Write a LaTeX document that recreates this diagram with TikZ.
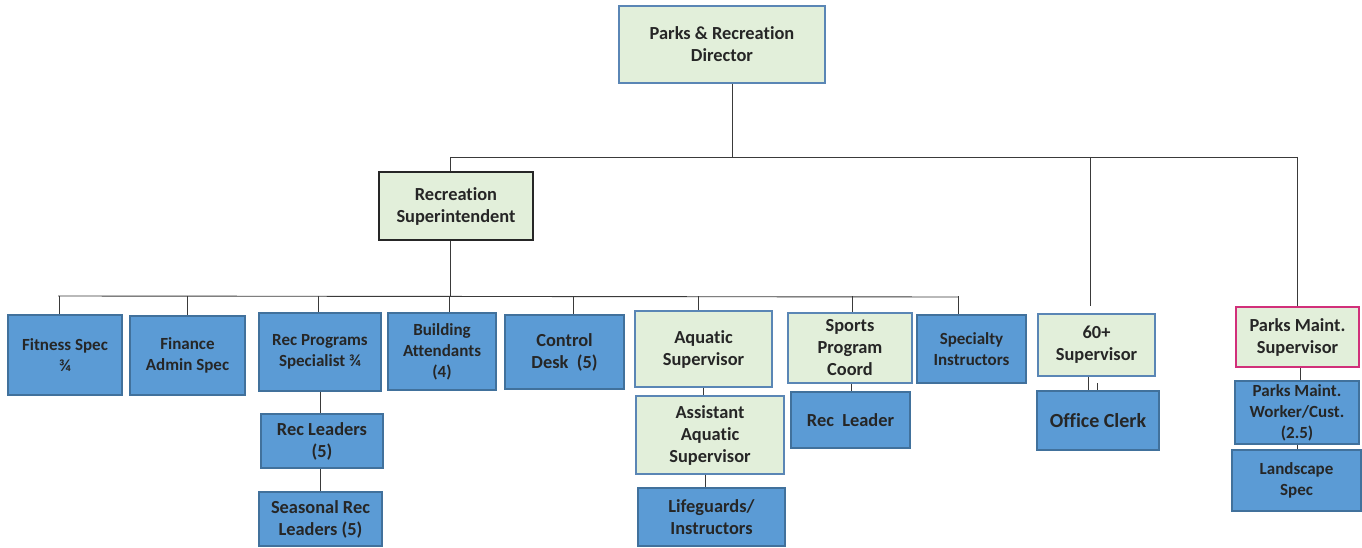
\documentclass[tikz,border=0pt]{standalone}
\usepackage{fontspec}
\setmainfont{Carlito}[Ligatures=NoCommon]
\definecolor{bfill}{HTML}{5B9BD5}
\definecolor{bdraw}{HTML}{41719C}
\definecolor{gfill}{HTML}{E2EFDA}
\definecolor{gdraw}{HTML}{5A86B5}
\definecolor{pdraw}{HTML}{D1307A}
\definecolor{txt}{HTML}{262626}
\definecolor{lin}{HTML}{3A3A3A}
\tikzset{
  box/.style={rectangle, inner sep=0pt, align=center, text=txt,
    font=\fontsize{18.4}{22}\selectfont\bfseries},
  smallt/.style={font=\fontsize{17}{21}\selectfont\bfseries},
  bluebox/.style={box, fill=bfill, draw=bdraw, line width=1.3pt},
  greenbox/.style={box, fill=gfill, draw=gdraw, line width=1.3pt},
  supbox/.style={box, fill=gfill, draw=txt, line width=1.6pt},
  pinkbox/.style={box, fill=gfill, draw=pdraw, line width=1.6pt},
  conn/.style={draw=lin, line width=0.9pt},
  sz/.style 2 args={minimum width=#1pt, minimum height=#2pt}
}
\begin{document}
\begin{tikzpicture}[x=1pt,y=-1pt]
\useasboundingbox (0,0) rectangle (1362,548);
% nodes
\node[greenbox, sz={206}{77}] (dir) at (722,44.5) {Parks \& Recreation\\Director};
\node[supbox, sz={154}{68}] (sup) at (456,206) {Recreation\\Superintendent};
\node[bluebox, smallt, sz={114}{80}] (fit) at (65,355) {Fitness Spec\\¾};
\node[bluebox, smallt, sz={115}{79}] (fin) at (187.5,355.5) {Finance\\Admin Spec};
\node[bluebox, smallt, sz={122}{78}] (rps) at (320,352) {Rec Programs\\Specialist ¾};
\node[bluebox, sz={122}{54}] (rl) at (322,441) {Rec Leaders\\(5)};
\node[bluebox, sz={123}{54}] (srl) at (320.5,519) {Seasonal Rec\\Leaders (5)};
\node[bluebox, smallt, sz={108}{77}] (ba) at (442,351.5) {Building\\Attendants\\(4)};
\node[bluebox, sz={119}{74}] (cd) at (564.5,352) {Control\\Desk~~(5)};
\node[greenbox, sz={137}{76}] (aq) at (703.5,349) {Aquatic\\Supervisor};
\node[greenbox, sz={148}{78}] (aaq) at (710,435) {Assistant\\Aquatic\\Supervisor};
\node[bluebox, sz={147}{58}] (lg) at (711.5,517) {Lifeguards/\\Instructors};
\node[greenbox, sz={124}{70}] (spc) at (850,348) {Sports\\Program\\Coord};
\node[bluebox, sz={119}{56}] (rlr) at (850.5,420) {Rec~~Leader};
\node[bluebox, smallt, sz={109}{68}] (si) at (971.5,349) {Specialty\\Instructors};
\node[greenbox, sz={117}{62}] (s60) at (1096.5,345) {60+\\Supervisor};
\node[bluebox, sz={122}{59}, font=\fontsize{20}{24}\selectfont\bfseries] (oc) at (1098,420.5) {Office Clerk};
\node[pinkbox, sz={123}{60}] (pms) at (1297.5,337) {Parks Maint.\\Supervisor};
\node[bluebox, smallt, sz={124}{63}] (pmw) at (1297,412.5) {Parks Maint.\\Worker/Cust.\\(2.5)};
\node[bluebox, smallt, sz={129}{61}] (ls) at (1296.5,480.5) {Landscape\\Spec};
% top level connectors
\coordinate (dj) at (732,157);
\coordinate (tL) at (450,157);
\coordinate (tR) at (1297,157);
\coordinate (t60) at (1090,157);
\coordinate (e60) at (1090,306);
\draw[conn] (dir.south -| dj) -- (dj);
\draw[conn] (tL) -- (tR);
\draw[conn] (tL) -- (sup.north -| tL);
\draw[conn] (t60) -- (e60);
\draw[conn] (tR) -- (pms.north -| tR);
% second level bus
\coordinate (bL) at (58,296);
\coordinate (bR) at (958,297);
\coordinate (bS) at (450,296);
\draw[conn] (sup.south -| bS) -- (bS);
\draw[conn] (bL) -- (bR);
\foreach \n/\x in {fit/59, fin/187, rps/318, ba/449, cd/573, aq/698, spc/852, si/958}{
  \draw[conn] (\x,296) -- (\n.north -| \x,0);
}
% sub connectors
\draw[conn] (rps.south -| 320,0) -- (rl.north -| 320,0);
\draw[conn] (rl.south -| 320,0) -- (srl.north -| 320,0);
\draw[conn] (aq.south -| 703,0) -- (aaq.north -| 703,0);
\draw[conn] (aaq.south -| 705,0) -- (lg.north -| 705,0);
\draw[conn] (spc.south -| 851,0) -- (rlr.north -| 851,0);
\draw[conn] (s60.south -| 1088,0) -- (oc.north -| 1088,0);
\coordinate (tick) at (1097,383);
\draw[conn] (tick) -- (oc.north -| tick);
\draw[conn] (pms.south -| 1300,0) -- (pmw.north -| 1300,0);
\draw[conn] (pmw.south -| 1297,0) -- (ls.north -| 1297,0);
\end{tikzpicture}
\end{document}
